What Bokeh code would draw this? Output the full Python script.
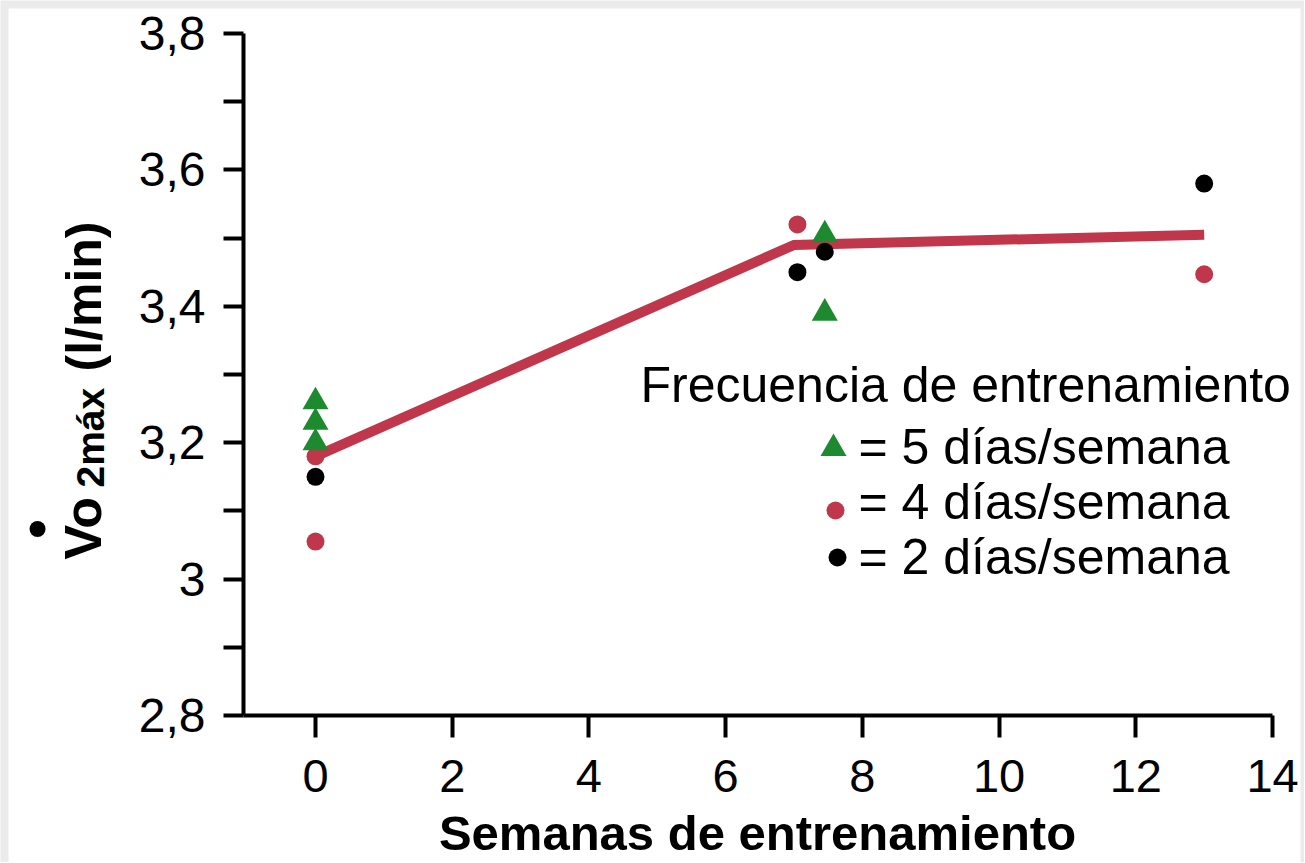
import math
from bokeh.plotting import figure
from bokeh.models import FixedTicker, Label, Range1d, BoxAnnotation
from bokeh.embed import file_html
from bokeh.resources import INLINE

# ---------------- data ----------------
weeks_5 = [0, 0, 0, 7.45, 7.45]
vo2_5 = [3.26, 3.23, 3.20, 3.505, 3.39]

weeks_4 = [0, 0, 7.05, 13]
vo2_4 = [3.18, 3.055, 3.52, 3.447]

weeks_2 = [0, 7.05, 7.45, 13]
vo2_2 = [3.15, 3.45, 3.48, 3.58]

mean_weeks = [0, 7, 13]
mean_vo2 = [3.18, 3.49, 3.505]

x_ticks = [0, 2, 4, 6, 8, 10, 12, 14]
y_ticks = [2.8, 2.9, 3.0, 3.1, 3.2, 3.3, 3.4, 3.5, 3.6, 3.7, 3.8]
y_tick_labels = ["2,8", "", "3", "", "3,2", "", "3,4", "", "3,6", "", "3,8"]

legend_title = "Frecuencia de entrenamiento"
legend_labels = ["= 5 días/semana", "= 4 días/semana", "= 2 días/semana"]
x_title = "Semanas de entrenamiento"
y_title_main = "Vo"
y_title_sub = "2máx"
y_title_unit = "(l/min)"

# ---------------- style ----------------
FONT = "Liberation Sans"
RED = "#c0364a"
GREEN = "#1e8a30"
BLACK = "#000000"
GRAY = "#ebebeb"

W, H = 1304, 862
# pixel mapping of the reference: x=0 at 315px, 68.36px per week;
# y=3.8 at 33px, 682px per l/min
XPX0, XSC = 315.0, 68.36
YPX0, YSC = 33.0, 682.0
def dx(px):
    return (px - XPX0) / XSC
def dy(py):
    return 3.8 - (py - YPX0) / YSC

p = figure(width=W, height=H, output_backend="svg", toolbar_location=None,
           x_range=Range1d(dx(0), dx(W)), y_range=Range1d(dy(H), dy(0)),
           min_border=0, min_border_left=0, min_border_right=0,
           min_border_top=0, min_border_bottom=0)
p.background_fill_color = GRAY
p.border_fill_color = GRAY
p.outline_line_color = None
p.xgrid.visible = False
p.ygrid.visible = False

p.add_layout(BoxAnnotation(left=dx(8), right=dx(1300), top=dy(8), bottom=dy(H + 50),
                           fill_color="white", fill_alpha=1.0, line_color=None,
                           level="underlay"))

for ax in (p.xaxis[0], p.yaxis[0]):
    ax.axis_line_width = 4
    ax.axis_line_color = "black"
    ax.major_tick_line_width = 4
    ax.major_tick_line_color = "black"
    ax.major_tick_in = 0
    ax.minor_tick_in = 0
    ax.minor_tick_out = 0
    ax.major_label_text_font = FONT
    ax.major_label_text_color = "black"

x_left = dx(243)
p.xaxis[0].ticker = FixedTicker(ticks=x_ticks)
p.xaxis[0].fixed_location = 2.8
p.xaxis[0].bounds = (x_left, 14)
p.xaxis[0].major_tick_out = 22
p.xaxis[0].major_label_standoff = 22
p.xaxis[0].major_label_text_font_size = "47px"

p.yaxis[0].ticker = FixedTicker(ticks=y_ticks)
p.yaxis[0].major_label_overrides = {t: l for t, l in zip(y_ticks, y_tick_labels)}
p.yaxis[0].fixed_location = x_left
p.yaxis[0].bounds = (2.8, 3.8)
p.yaxis[0].major_tick_out = 20
p.yaxis[0].major_label_standoff = 18
p.yaxis[0].major_label_text_font_size = "48px"

# ---------------- marks ----------------
p.line(mean_weeks, mean_vo2, line_color=RED, line_width=10, line_join="miter")
p.scatter(weeks_4, vo2_4, marker="circle", size=18, fill_color=RED, line_color=None)
p.scatter(weeks_2, vo2_2, marker="circle", size=18, fill_color=BLACK, line_color=None)
p.scatter(weeks_5, vo2_5, marker="triangle", size=26, fill_color=GREEN, line_color=None)

# ---------------- legend (custom) ----------------
p.add_layout(Label(x=dx(640), y=dy(384), text=legend_title, text_font=FONT,
                   text_font_size="50px", text_color="black",
                   text_align="left", text_baseline="middle"))
leg_marker_px = [833, 835, 837]
leg_marker_py = [448, 510, 557]
leg_text_py = [446, 501, 556]
leg_colors = [GREEN, RED, BLACK]
leg_markers = ["triangle", "circle", "circle"]
leg_sizes = [26, 18, 18]
for mx, my, ty, col, mk, sz, lab in zip(leg_marker_px, leg_marker_py, leg_text_py,
                                       leg_colors, leg_markers, leg_sizes, legend_labels):
    p.scatter([dx(mx)], [dy(my)], marker=mk, size=sz, fill_color=col, line_color=None)
    p.add_layout(Label(x=dx(858), y=dy(ty), text=lab, text_font=FONT,
                       text_font_size="50px", text_color="black",
                       text_align="left", text_baseline="middle"))

# ---------------- axis titles ----------------
p.add_layout(Label(x=dx(757), y=dy(832), text=x_title, text_font=FONT,
                   text_font_size="49px", text_font_style="bold", text_color="black",
                   text_align="center", text_baseline="middle"))

rot = math.pi / 2
p.add_layout(Label(x=dx(82), y=dy(559), text=y_title_main,
                   angle=rot, text_font=FONT, text_font_size="52px",
                   text_font_style="bold", text_color="black",
                   text_align="left", text_baseline="middle"))
p.add_layout(Label(x=dx(90), y=dy(487), text=y_title_sub,
                   angle=rot, text_font=FONT, text_font_size="39px",
                   text_font_style="bold", text_color="black",
                   text_align="left", text_baseline="middle"))
p.add_layout(Label(x=dx(83), y=dy(371), text=y_title_unit,
                   angle=rot, text_font=FONT, text_font_size="50px",
                   text_font_style="bold", text_color="black",
                   text_align="left", text_baseline="middle"))
p.add_layout(Label(x=dx(37), y=dy(527), text="•",
                   text_font=FONT, text_font_size="56px", text_font_style="bold",
                   text_color="black", text_align="center", text_baseline="middle"))

open("out.html", "w").write(file_html(p, INLINE, title="VO2max"))
